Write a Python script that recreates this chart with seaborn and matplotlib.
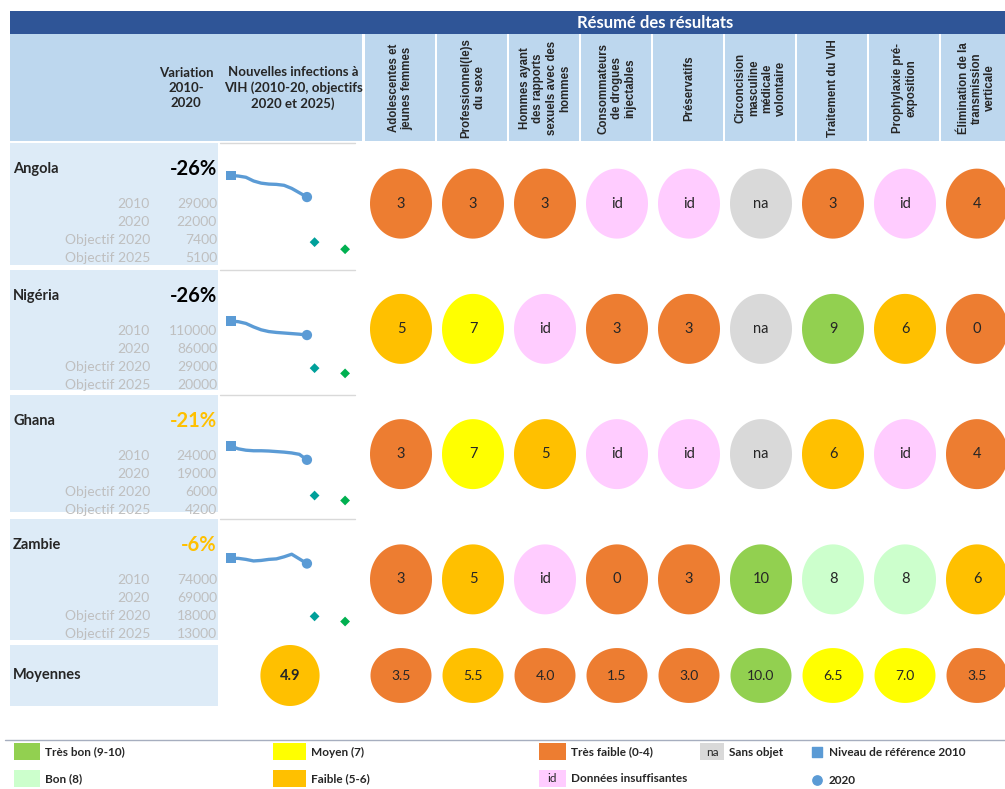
import numpy as np
import pandas as pd
import matplotlib.pyplot as plt
import seaborn as sns
from matplotlib.patches import Rectangle
from matplotlib.path import Path
from matplotlib.markers import MarkerStyle

sns.set_style("white")
plt.rcParams['font.family'] = ['Lato', 'DejaVu Sans']

# ---- data ----
countries = ["Angola", "Nigéria", "Ghana", "Zambie"]
variation = [-26, -26, -21, -6]
years = list(range(2010, 2021))
angola_trend = [29000, 28800, 28400, 27200, 26500, 26200, 26100, 25800, 24800, 23400, 22000]
nigeria_trend = [110000, 109000, 106000, 100000, 95000, 92000, 90500, 89500, 88500, 87500, 86000]
ghana_trend = [24000, 23000, 22500, 22300, 22300, 22200, 22000, 21800, 21500, 21000, 19000]
zambie_trend = [74000, 74000, 73000, 71500, 72000, 73000, 73500, 75500, 78000, 73500, 69000]
trends = [angola_trend, nigeria_trend, ghana_trend, zambie_trend]
target_2020 = [7400, 29000, 6000, 18000]
target_2025 = [5100, 20000, 4200, 13000]
target_x = [2021, 2025]          # where the two targets sit on the sparkline axis
spark_ymax = [39500, 198000, 42600, 112000]

indicators = ["Adolescentes et\njeunes femmes", "Professionnel(le)s\ndu sexe",
              "Hommes ayant\ndes rapports\nsexuels avec des\nhommes",
              "Consommateurs\nde drogues\ninjectables", "Préservatifs",
              "Circoncision\nmasculine\nmédicale\nvolontaire", "Traitement du VIH",
              "Prophylaxie pré-\nexposition", "Élimination de la\ntransmission\nverticale"]
angola_scores = ["3", "3", "3", "id", "id", "na", "3", "id", "4"]
nigeria_scores = ["5", "7", "id", "3", "3", "na", "9", "6", "0"]
ghana_scores = ["3", "7", "5", "id", "id", "na", "6", "id", "4"]
zambie_scores = ["3", "5", "id", "0", "3", "10", "8", "8", "6"]
scores = [angola_scores, nigeria_scores, ghana_scores, zambie_scores]
averages = [3.5, 5.5, 4.0, 1.5, 3.0, 10.0, 6.5, 7.0, 3.5]
overall_average = 4.9

palette = {"Très bon (9-10)": "#92D050", "Bon (8)": "#CCFFCC", "Moyen (7)": "#FFFF00",
           "Faible (5-6)": "#FFC000", "Très faible (0-4)": "#ED7D31",
           "Données insuffisantes": "#FFCCFF", "Sans objet": "#D9D9D9"}


def category(s):
    if s == "id":
        return "Données insuffisantes"
    if s == "na":
        return "Sans objet"
    r = int(np.floor(float(s) + 0.5))
    if r >= 9:
        return "Très bon (9-10)"
    if r == 8:
        return "Bon (8)"
    if r == 7:
        return "Moyen (7)"
    if r >= 5:
        return "Faible (5-6)"
    return "Très faible (0-4)"


def ellipse_marker(w, h):
    t = np.linspace(0, 2 * np.pi, 80)
    return MarkerStyle(Path(np.column_stack([w * np.cos(t), h * np.sin(t)]), closed=True))


# ---- canvas in pixel units ----
W, H = 1005, 789
fig = plt.figure(figsize=(W / 100, H / 100), dpi=100)
bg = fig.add_axes([0, 0, 1, 1])
bg.set_xlim(0, W)
bg.set_ylim(H, 0)
bg.axis('off')


def box(x0, y0, x1, y1, color):
    bg.add_patch(Rectangle((x0, y0), x1 - x0, y1 - y0, facecolor=color, edgecolor='none'))


def px_axes(x0, y0, x1, y1):
    ax = fig.add_axes([x0 / W, 1 - y1 / H, (x1 - x0) / W, (y1 - y0) / H])
    ax.axis('off')
    return ax


# header
box(10, 11, 1005, 34, "#2F5597")
box(10, 34, 362, 141, "#BDD7EE")
bg.text(655, 22.5, "Résumé des résultats", color='white', fontweight='bold', fontsize=12,
        ha='center', va='center')
bg.text(186, 88, "Variation\n2010-\n2020", fontweight='bold', fontsize=9.5, ha='center',
        va='center', linespacing=1.3)
bg.text(293, 88, "Nouvelles infections à\nVIH (2010-20, objectifs\n2020 et 2025)", fontweight='bold',
        fontsize=9.5, ha='center', va='center', linespacing=1.3)
for i, lab in enumerate(indicators):
    x0 = 365 + 72 * i
    box(x0, 34, x0 + 70, 141, "#BDD7EE")
    bg.text(x0 + 36, 88, lab, rotation=90, fontsize=8.3, fontweight='bold', ha='center', va='center',
            multialignment='center', linespacing=1.15, family=['Liberation Sans', 'DejaVu Sans'])

# country rows (left panel + sparklines)
row_tops = [141, 268, 393, 517]
row_zero = [265, 385, 512, 635]
row_bottoms = [265, 390, 512, 640]
grey = "#BFBFBF"
for k, c in enumerate(countries):
    T, B = row_tops[k], row_bottoms[k]
    box(10, T + 2, 218, B, "#DDEBF7")
    bg.plot([220, 355], [T + 2, T + 2], color="#D9D9D9", lw=1)
    bg.text(13, T + 28, c, fontweight='bold', fontsize=10.5, va='center')
    pct_color = "black" if variation[k] <= -25 else "#FFC000"
    bg.text(217, T + 28, f"{variation[k]}%", fontweight='bold', fontsize=14.5, ha='right',
            va='center', color=pct_color)
    labels = ["2010", "2020", "Objectif 2020", "Objectif 2025"]
    nums = [trends[k][0], trends[k][-1], target_2020[k], target_2025[k]]
    for j, (lab, v) in enumerate(zip(labels, nums)):
        y = T + 63 + 18 * j
        bg.text(150, y, lab, fontsize=10, ha='right', va='center', color=grey)
        bg.text(217, y, f"{v}", fontsize=10, ha='right', va='center', color=grey)

    ax = px_axes(220, T + 2, 355, row_zero[k])
    sns.lineplot(x=years, y=trends[k], ax=ax, color="#5B9BD5", lw=2.4)
    sns.scatterplot(x=years[:1], y=trends[k][:1], ax=ax, marker='s', s=50, color="#5B9BD5",
                    edgecolor='none', zorder=3)
    sns.scatterplot(x=years[-1:], y=trends[k][-1:], ax=ax, marker='o', s=55, color="#5B9BD5",
                    edgecolor='none', zorder=3)
    sns.scatterplot(x=target_x, y=[target_2020[k], target_2025[k]], ax=ax, marker='D', s=25,
                    hue=["t20", "t25"], palette={"t20": "#00A09A", "t25": "#00B050"},
                    edgecolor='none', legend=False, zorder=3)
    ax.set_xlim(2008.6, 2026.3)
    ax.set_ylim(0, spark_ymax[k])

# moyennes row
box(10, 645, 218, 706, "#DDEBF7")
bg.text(13, 675, "Moyennes", fontweight='bold', fontsize=10.5, va='center')

# score circles
cells = pd.DataFrame([dict(row=r, col=i, score=s, cat=category(s))
                      for r, row in enumerate(scores) for i, s in enumerate(row)])
grid = px_axes(365, 141, 1013, 642)
sns.scatterplot(data=cells, x='col', y='row', hue='cat', palette=palette, s=2540,
                marker=ellipse_marker(0.886, 1.0), edgecolor='none', legend=False, ax=grid)
for _, r in cells.iterrows():
    grid.text(r['col'], r['row'], r['score'], ha='center', va='center', fontsize=10.5)
grid.set_xlim(-0.5, 8.5)
grid.set_ylim(3.5, -0.5)

avg = pd.DataFrame({"col": range(len(averages)), "row": 0, "val": averages,
                    "cat": [category(v) for v in averages]})
mgrid = px_axes(365, 645, 1013, 706)
sns.scatterplot(data=avg, x='col', y='row', hue='cat', palette=palette, s=1930,
                marker=ellipse_marker(1.0, 0.9), edgecolor='none', legend=False, ax=mgrid)
for _, r in avg.iterrows():
    mgrid.text(r['col'], 0, f"{r['val']:.1f}", ha='center', va='center', fontsize=10)
mgrid.set_xlim(-0.5, 8.5)
mgrid.set_ylim(0.5, -0.5)

oax = px_axes(220, 645, 360, 706)
sns.scatterplot(x=[0], y=[overall_average], hue=[category(overall_average)], palette=palette,
                s=1930, marker=ellipse_marker(0.97, 1.0), edgecolor='none', legend=False, ax=oax)
oax.text(0, overall_average, f"{overall_average:.1f}", ha='center', va='center', fontsize=10.5,
         fontweight='bold')
oax.set_xlim(-0.5, 0.5)
oax.set_ylim(overall_average - 0.5, overall_average + 0.5)

# legend
bg.plot([5, 1005], [740, 740], color="#A6AEBF", lw=1)
legend_items = [(14, 40, 0, "Très bon (9-10)", ""), (14, 40, 1, "Bon (8)", ""),
                (273, 306, 0, "Moyen (7)", ""), (273, 306, 1, "Faible (5-6)", ""),
                (539, 566, 0, "Très faible (0-4)", ""), (539, 566, 1, "Données insuffisantes", "id"),
                (700, 724, 0, "Sans objet", "na")]
for x0, x1, r, lab, tag in legend_items:
    y0 = 743 + 27 * r
    box(x0, y0, x1, y0 + 17, palette[lab])
    if tag:
        bg.text((x0 + x1) / 2, y0 + 9, tag, ha='center', va='center', fontsize=8.5)
    bg.text(x1 + 5, y0 + 9, lab, ha='left', va='center', fontsize=8.5, fontweight='bold')
bg.scatter([817], [752], marker='s', s=45, color="#5B9BD5")
bg.text(829, 752, "Niveau de référence 2010", va='center', fontsize=8.5, fontweight='bold')
bg.scatter([817], [780], marker='o', s=45, color="#5B9BD5")
bg.text(829, 780, "2020", va='center', fontsize=8.5, fontweight='bold')

fig.savefig("out.png", dpi=100)
